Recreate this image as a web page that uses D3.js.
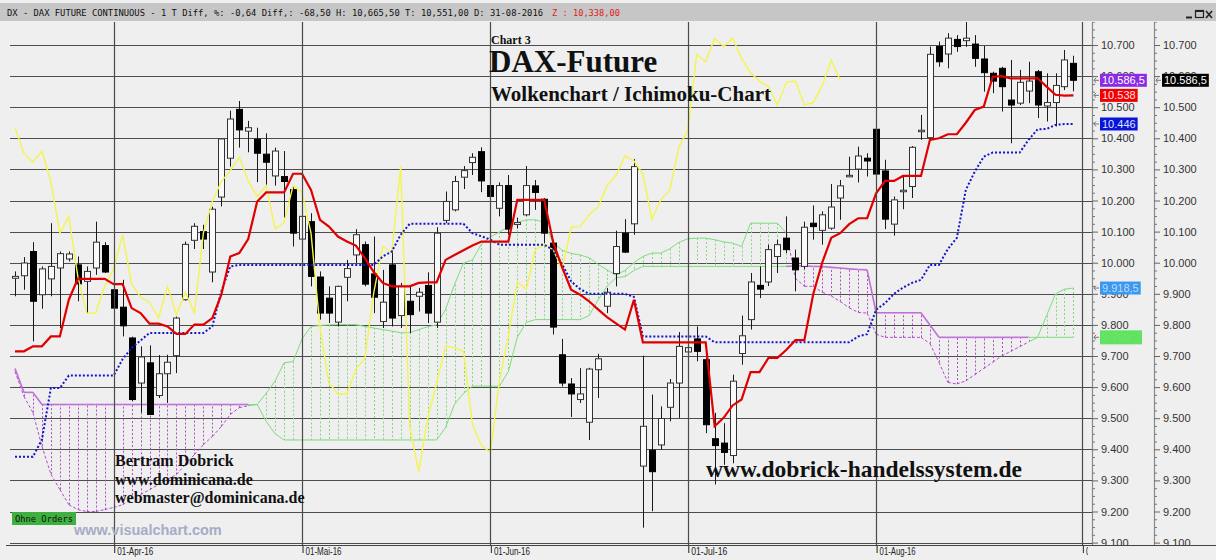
<!DOCTYPE html>
<html>
<head>
<meta charset="utf-8">
<title>DAX-Future Ichimoku</title>
<script src="https://cdn.jsdelivr.net/npm/d3@7/dist/d3.min.js"></script>
<style>
  body { margin: 0; background: #efefef; }
  svg { display: block; }
</style>
</head>
<body>
<svg id="chart" width="1216" height="560"></svg>
<script>
// daily candles, one entry per bar (index 0..118, last bar = 31-08-2016)
const open = [
  9950, 9958, 10036, 9897, 9948, 9983, 10012, 9993, 9940, 9983,
  10055, 9913, 9857, 9758, 9613, 9678, 9573, 9643, 9701, 9881,
  10072, 10100, 9970, 10211, 10336, 10493, 10423, 10397, 10349, 10279,
  10277, 10235, 10076, 10132, 9954, 9886, 9809, 9953, 10025, 10058,
  9964, 9811, 9993, 9830, 9876, 9892, 9927, 9809, 10136, 10170,
  10275, 10322, 10357, 10248, 10175, 10248, 10123, 10154, 10247, 10204,
  10063, 9704, 9610, 9560, 9487, 9656, 9860, 9965, 10095, 10125,
  9346, 9397, 9414, 9535, 9613, 9713, 9755, 9688, 9434, 9420,
  9380, 9708, 9817, 9927, 9938, 10020, 10079, 10015, 9988, 10127,
  10104, 10111, 10208, 10279, 10301, 10336, 10429, 10295, 10124, 10229,
  10245, 10422, 10402, 10695, 10671, 10718, 10714, 10703, 10655, 10609,
  10625, 10523, 10513, 10552, 10614, 10504, 10515, 10566, 10641
];
const high = [
  9972, 10018, 10066, 9988, 10127, 10036, 10036, 10020, 9988, 10132,
  10066, 9919, 9945, 9762, 9731, 9734, 9703, 9704, 9827, 10068,
  10127, 10122, 10180, 10400, 10489, 10520, 10456, 10434, 10416, 10370,
  10359, 10245, 10162, 10159, 9972, 9924, 9926, 10009, 10108, 10068,
  10084, 9977, 10042, 9935, 9924, 9919, 9969, 10114, 10229, 10279,
  10311, 10352, 10371, 10260, 10258, 10282, 10145, 10311, 10266, 10208,
  10074, 9755, 9629, 9661, 9662, 9707, 9919, 10103, 10140, 10333,
  9701, 9576, 9538, 9626, 9777, 9745, 9795, 9694, 9517, 9484,
  9640, 9830, 9967, 9988, 10058, 10074, 10149, 10042, 10132, 10184,
  10165, 10253, 10266, 10341, 10373, 10352, 10432, 10331, 10213, 10277,
  10375, 10475, 10695, 10711, 10738, 10732, 10778, 10732, 10697, 10614,
  10630, 10652, 10620, 10646, 10620, 10609, 10609, 10684, 10665.5
];
const low = [
  9892, 9913, 9747, 9852, 9892, 9790, 10004, 9876, 9838, 9961,
  9967, 9801, 9763, 9554, 9518, 9510, 9565, 9549, 9645, 9878,
  10044, 10044, 9937, 10181, 10309, 10370, 10355, 10259, 10248, 10248,
  10145, 10052, 10060, 9924, 9817, 9806, 9795, 9876, 9999, 9924,
  9838, 9790, 9795, 9790, 9774, 9843, 9806, 9790, 10127, 10165,
  10237, 10282, 10227, 10190, 10149, 10090, 10110, 10149, 10170, 10063,
  9769, 9602, 9504, 9549, 9430, 9565, 9838, 9924, 10031, 10090,
  9148, 9201, 9399, 9490, 9501, 9700, 9683, 9452, 9287, 9350,
  9355, 9672, 9785, 9886, 9925, 9967, 10031, 9908, 9980, 10074,
  10058, 10106, 10138, 10276, 10258, 10277, 10280, 10108, 10087, 10172,
  10208, 10395, 10398, 10630, 10625, 10678, 10694, 10630, 10550, 10545,
  10486, 10384, 10507, 10513, 10465, 10454, 10438, 10555, 10551
];
const close = [
  9956, 9999, 9876, 9980, 9988, 10029, 10028, 9932, 9972, 10066,
  9970, 9854, 9797, 9560, 9697, 9512, 9643, 9680, 9822, 10059,
  10117, 10076, 10172, 10398, 10462, 10427, 10434, 10352, 10323, 10359,
  10261, 10095, 10149, 9956, 9838, 9838, 9924, 9981, 10090, 9931,
  9889, 9873, 9822, 9924, 9833, 9905, 9838, 10095, 10197, 10261,
  10296, 10339, 10263, 10213, 10248, 10108, 10129, 10248, 10226, 10095,
  9793, 9613, 9578, 9578, 9658, 9691, 9905, 10052, 10034, 10309,
  9474, 9328, 9499, 9613, 9731, 9727, 9715, 9479, 9412, 9390,
  9619, 9765, 9938, 9915, 10042, 10058, 10042, 9977, 10114, 10116,
  10154, 10179, 10247, 10281, 10343, 10327, 10285, 10140, 10202, 10233,
  10371, 10426, 10670, 10646, 10722, 10695, 10722, 10657, 10611, 10584,
  10566, 10507, 10580, 10584, 10507, 10515, 10570, 10652, 10586.5
];

// Ichimoku lines
const tenkan = [
  9715, 9715, 9731, 9731, 9763, 9763, 9881, 9948, 9948, 9948,
  9948, 9931, 9931, 9854, 9838, 9804, 9804, 9795, 9771, 9771,
  9801, 9801, 9822, 9897, 10020, 10031, 10076, 10197, 10226, 10226,
  10226, 10286, 10286, 10234, 10138, 10116, 10084, 10068, 10055, 10015,
  9970, 9935, 9924, 9924, 9924, 9935, 9937, 9937, 10009, 10025,
  10040, 10055, 10068, 10068, 10068, 10068, 10202, 10202, 10202, 10202,
  10065, 9985, 9913, 9897, 9876, 9850, 9825, 9805, 9785, 9881,
  9744, 9744, 9744, 9744, 9744, 9744, 9744, 9744, 9474, 9501,
  9541, 9560, 9648, 9648, 9694, 9694, 9720, 9751, 9751, 9900,
  10001, 10080, 10095, 10124, 10143, 10143, 10223, 10263, 10263, 10279,
  10279, 10279, 10395, 10400, 10413, 10413, 10450, 10491, 10502, 10598,
  10600, 10593, 10593, 10593, 10593, 10566, 10540, 10537, 10538
];
const kijun = [
  9376, 9376, 9376, 9431, 9597, 9597, 9637, 9637, 9637, 9637,
  9637, 9637, 9690, 9726, 9750, 9774, 9774, 9774, 9774, 9774,
  9774, 9774, 9795, 9908, 9988, 9993, 9993, 9993, 9993, 9993,
  9993, 9993, 9993, 9993, 9993, 9993, 9993, 9993, 9993, 9993,
  9993, 10020, 10036, 10090, 10125, 10125, 10125, 10125, 10125, 10125,
  10125, 10095, 10085, 10074, 10058, 10058, 10058, 10058, 10058, 10058,
  10040, 9995, 9940, 9915, 9900, 9900, 9900, 9900, 9900, 9890,
  9763, 9763, 9763, 9763, 9763, 9763, 9763, 9763, 9744, 9744,
  9744, 9744, 9744, 9744, 9744, 9744, 9744, 9744, 9744, 9744,
  9744, 9744, 9744, 9744, 9763, 9770, 9849, 9870, 9900, 9920,
  9935, 9945, 9993, 9993, 10044, 10080, 10234, 10293, 10341, 10354,
  10354, 10354, 10354, 10395, 10429, 10430, 10443, 10446, 10446
];
// lagging line, starts at bar 0 and ends 26 bars before the last candle
const chikou = [
  10434, 10352, 10323, 10359, 10261, 10095, 10149, 9956, 9838, 9838,
  9924, 9981, 10090, 9931, 9889, 9873, 9822, 9924, 9833, 9905,
  9838, 10095, 10197, 10261, 10296, 10339, 10263, 10213, 10248, 10108,
  10129, 10248, 10226, 10095, 9793, 9613, 9578, 9578, 9658, 9691,
  9905, 10052, 10034, 10309, 9474, 9328, 9499, 9613, 9731, 9727,
  9715, 9479, 9412, 9390, 9619, 9765, 9938, 9915, 10042, 10058,
  10042, 9977, 10114, 10116, 10154, 10179, 10247, 10281, 10343, 10327,
  10285, 10140, 10202, 10233, 10371, 10426, 10670, 10646, 10722, 10695,
  10722, 10657, 10611, 10584, 10566, 10507, 10580, 10584, 10507, 10515,
  10570, 10652, 10586.5
];
// cloud borders (senkou span A / B)
const spanA = [
  9650, 9570, 9518, 9410, 9320, 9271, 9222, 9206, 9200, 9200,
  9206, 9213, 9222, 9240, 9255, 9270, 9287, 9303, 9319, 9351,
  9383, 9415, 9441, 9473, 9512, 9534, 9540, 9544, 9580, 9620,
  9678, 9682, 9755, 9795, 9798, 9800, 9801, 9801, 9801, 9795,
  9790, 9785, 9780, 9775, 9775, 9785, 9794, 9800, 9850, 9930,
  9999, 10009, 10060, 10083, 10099, 10115, 10130, 10138, 10138, 10130,
  10064, 10040, 10030, 10025, 10016, 9995, 9977, 9960, 9975, 10000,
  10020, 10031, 10031, 10045, 10065, 10077, 10079, 10079, 10074, 10067,
  10063, 10052, 10127, 10127, 10127, 10127, 10095, 9950, 9924, 9924,
  9905, 9893, 9875, 9855, 9840, 9838, 9770, 9760, 9760, 9760,
  9760, 9760, 9740, 9680, 9615, 9610, 9620, 9640, 9660, 9680,
  9700, 9715, 9730, 9745, 9760, 9830, 9900, 9915, 9918.5
];
const spanB = [
  9660, 9583, 9583, 9544, 9544, 9544, 9544, 9544, 9544, 9544,
  9544, 9544, 9544, 9544, 9544, 9544, 9544, 9544, 9544, 9544,
  9544, 9544, 9544, 9544, 9544, 9544, 9544, 9544, 9490, 9450,
  9430, 9430, 9430, 9430, 9430, 9430, 9430, 9430, 9430, 9430,
  9430, 9430, 9430, 9430, 9430, 9430, 9430, 9430, 9470, 9545,
  9580, 9603, 9603, 9603, 9603, 9650, 9760, 9808, 9817, 9817,
  9817, 9817, 9817, 9817, 9830, 9880, 9924, 9952, 9955, 9975,
  9988, 9988, 9988, 9988, 9988, 9988, 9988, 9988, 9988, 9988,
  9988, 9988, 9988, 9988, 9988, 9988, 9988, 9990, 9990, 9988,
  9988, 9985, 9983, 9980, 9978, 9977, 9839, 9839, 9839, 9839,
  9839, 9839, 9800, 9760, 9760, 9760, 9760, 9760, 9760, 9760,
  9760, 9760, 9760, 9760, 9760, 9760, 9760, 9760, 9760
];

// month ticks: bar index of the first session of each month
const monthIdx = [11, 32, 53, 75, 96, 119];
const monthLabels = ["01-Apr-16", "01-Mai-16", "01-Jun-16", "01-Jul-16", "01-Aug-16", "01-Sep-16"];

const header = "DX - DAX FUTURE CONTINUOUS - 1 T Diff, %: -0,64 Diff,: -68,50 H: 10,665,50 T: 10,551,00 D: 31-08-2016";
const headerRed = "Z : 10,338,00";

// ---------------------------------------------------------------
const area = {left: 10, top: 22, right: 1092, bottom: 545};
const step = 8.97;

const x = d3.scaleLinear().domain([0, 119]).range([15, 15 + 119 * step]);
const y = d3.scaleLinear().domain([9200, 10700]).range([511.5, 45]);

const de = d3.formatLocale({decimal: ",", thousands: ".", grouping: [3], currency: ["", ""]});
const fmtAxis = de.format(",.0f");
const fmtTag = de.format(",");

const svg = d3.select("#chart");
const defs = svg.append("defs");
defs.append("clipPath").attr("id", "plotclip").append("rect")
  .attr("x", area.left).attr("y", area.top)
  .attr("width", area.right - area.left).attr("height", area.bottom - area.top);
defs.append("clipPath").attr("id", "axisclip").append("rect")
  .attr("x", 0).attr("y", area.top).attr("width", 1216).attr("height", area.bottom - area.top);
defs.append("clipPath").attr("id", "xclip").append("rect")
  .attr("x", 0).attr("y", area.bottom).attr("width", 1088).attr("height", 20);

svg.append("rect").attr("width", 1216).attr("height", 560).attr("fill", "#efefef");

// title bar
svg.append("rect").attr("x", 0).attr("y", 3).attr("width", 1216).attr("height", 18).attr("fill", "#c6c6c6");
svg.append("text").attr("x", 7).attr("y", 16)
  .attr("font-family", "DejaVu Sans Mono").attr("font-size", 8.8)
  .attr("textLength", 536).attr("lengthAdjust", "spacingAndGlyphs")
  .attr("fill", "#111").text(header);
svg.append("text").attr("x", 552).attr("y", 16)
  .attr("font-family", "DejaVu Sans Mono").attr("font-size", 8.8)
  .attr("textLength", 68).attr("lengthAdjust", "spacingAndGlyphs")
  .attr("fill", "#e02020").text(headerRed);

// window buttons
const win = svg.append("g").attr("stroke", "#222").attr("fill", "none");
win.append("line").attr("x1", 1186).attr("x2", 1192).attr("y1", 17.5).attr("y2", 17.5).attr("stroke-width", 2);
win.append("rect").attr("x", 1195.5).attr("y", 10.5).attr("width", 8).attr("height", 7).attr("stroke-width", 1.2);
win.append("line").attr("x1", 1196).attr("x2", 1203).attr("y1", 11).attr("y2", 11).attr("stroke-width", 2);
win.append("path").attr("d", "M1206,11 L1212,18 M1212,11 L1206,18").attr("stroke-width", 1.6);

const plot = svg.append("g").attr("clip-path", "url(#plotclip)");

// horizontal grid
const majors = d3.range(9100, 10800, 100);
plot.append("g").selectAll("line").data(majors).join("line")
  .attr("x1", area.left).attr("x2", area.right)
  .attr("y1", d => Math.round(y(d)) + 0.5).attr("y2", d => Math.round(y(d)) + 0.5)
  .attr("stroke", "#4d4d4d").attr("stroke-width", 1.2);

// month lines
svg.append("g").selectAll("line").data(monthIdx).join("line")
  .attr("x1", d => Math.round(x(d)) + 0.5).attr("x2", d => Math.round(x(d)) + 0.5)
  .attr("y1", area.top).attr("y2", area.bottom)
  .attr("stroke", "#4a4a4a").attr("stroke-width", 1.2);

// cloud
const green = "#7ddc7d", purple = "#b24ccc";
const bars = d3.range(close.length);
const cloud = plot.append("g");
cloud.selectAll("line.hatch").data(bars).join("line")
  .attr("class", "hatch")
  .attr("x1", i => Math.round(x(i)) + 0.5).attr("x2", i => Math.round(x(i)) + 0.5)
  .attr("y1", i => y(spanA[i])).attr("y2", i => y(spanB[i]))
  .attr("stroke", i => spanA[i] >= spanB[i] ? green : purple)
  .attr("stroke-width", 1).attr("stroke-dasharray", "2,2");

const segs = d3.range(close.length - 1);
const up = i => spanA[i + 1] >= spanB[i + 1];
cloud.selectAll("line.sa").data(segs).join("line")
  .attr("class", "sa")
  .attr("x1", i => x(i)).attr("x2", i => x(i + 1))
  .attr("y1", i => y(spanA[i])).attr("y2", i => y(spanA[i + 1]))
  .attr("stroke", i => up(i) ? green : purple)
  .attr("stroke-width", 1)
  .attr("stroke-dasharray", i => up(i) ? null : "3,2");
cloud.selectAll("line.sb").data(segs).join("line")
  .attr("class", "sb")
  .attr("x1", i => x(i)).attr("x2", i => x(i + 1))
  .attr("y1", i => y(spanB[i])).attr("y2", i => y(spanB[i + 1]))
  .attr("stroke", i => up(i) ? green : "#c070d8")
  .attr("stroke-width", i => up(i) ? 1 : 1.6);

// candles
const cg = plot.append("g");
cg.selectAll("line").data(bars).join("line")
  .attr("x1", i => Math.round(x(i)) + 0.5).attr("x2", i => Math.round(x(i)) + 0.5)
  .attr("y1", i => y(high[i])).attr("y2", i => y(low[i]))
  .attr("stroke", "#1a1a1a").attr("stroke-width", 1);
cg.selectAll("rect").data(bars).join("rect")
  .attr("x", i => Math.round(x(i)) - 2.5).attr("width", 6)
  .attr("y", i => y(Math.max(open[i], close[i])))
  .attr("height", i => Math.max(1.5, Math.abs(y(open[i]) - y(close[i]))))
  .attr("fill", i => close[i] < open[i] ? "#000" : "#fafafa")
  .attr("stroke", i => close[i] < open[i] ? "#000" : "#333")
  .attr("stroke-width", 1);

// indicator lines
const line = d3.line().x((d, i) => x(i)).y(d => y(d));
plot.append("path").datum(chikou).attr("d", line)
  .attr("fill", "none").attr("stroke", "#f4f450").attr("stroke-width", 1.4);
plot.append("path").datum(kijun).attr("d", line)
  .attr("fill", "none").attr("stroke", "#1414c8").attr("stroke-width", 2).attr("stroke-dasharray", "2,2");
plot.append("path").datum(tenkan).attr("d", line)
  .attr("fill", "none").attr("stroke", "#e00000").attr("stroke-width", 2.2);

// captions
const serif = "Liberation Serif, Times New Roman, serif";
const cap = svg.append("g").attr("font-family", serif).attr("font-weight", "bold").attr("fill", "#111");
cap.append("text").attr("x", 491).attr("y", 44).attr("font-size", 12).text("Chart 3");
cap.append("text").attr("x", 489).attr("y", 72).attr("font-size", 31).text("DAX-Future");
cap.append("text").attr("x", 491).attr("y", 101).attr("font-size", 21).text("Wolkenchart / Ichimoku-Chart");
cap.append("text").attr("x", 115).attr("y", 466).attr("font-size", 16).text("Bertram Dobrick");
cap.append("text").attr("x", 115).attr("y", 485).attr("font-size", 16).text("www.dominicana.de");
cap.append("text").attr("x", 115).attr("y", 503).attr("font-size", 16).text("webmaster@dominicana.de");
cap.append("text").attr("x", 706).attr("y", 477).attr("font-size", 23.5).text("www.dobrick-handelssystem.de");

// "Ohne Orders" badge and watermark
svg.append("rect").attr("x", 12).attr("y", 512).attr("width", 64).attr("height", 13).attr("fill", "#3fb03f");
svg.append("text").attr("x", 15).attr("y", 522).attr("font-family", "DejaVu Sans Mono").attr("font-size", 9)
  .attr("textLength", 58).attr("lengthAdjust", "spacingAndGlyphs").attr("fill", "#111").text("Ohne Orders");
svg.append("text").attr("x", 74).attr("y", 535)
  .attr("font-family", "Liberation Sans, Arial, sans-serif").attr("font-weight", "bold").attr("font-size", 14.5)
  .attr("fill", "#a6acc8").text("www.visualchart.com");

// x axis
svg.append("line").attr("x1", 6).attr("x2", 1216).attr("y1", area.bottom + 0.5).attr("y2", area.bottom + 0.5)
  .attr("stroke", "#444").attr("stroke-width", 1.2);
const xWrap = svg.append("g").attr("clip-path", "url(#xclip)");
const xAxis = xWrap.append("g").attr("transform", `translate(0,${area.bottom})`)
  .call(d3.axisBottom(x).tickValues(monthIdx).tickFormat((d, i) => monthLabels[i]).tickSize(8).tickSizeOuter(0));
xAxis.select(".domain").remove();
xAxis.selectAll(".tick line").attr("stroke", "#444").attr("stroke-width", 1.2)
  .attr("transform", "translate(0.5,0)");
xAxis.selectAll(".tick text")
  .attr("x", 3).attr("y", 1).attr("dy", "0.8em").attr("text-anchor", "start")
  .attr("font-family", "Liberation Sans, Arial, sans-serif").attr("font-size", 11)
  .attr("textLength", 36).attr("lengthAdjust", "spacingAndGlyphs")
  .attr("fill", "#222");

// right price axes
const minors = d3.range(9100, 10800, 25).filter(v => v % 100 !== 0);
[1092, 1154].forEach(ax => {
  const g = svg.append("g").attr("clip-path", "url(#axisclip)");
  g.append("line").attr("x1", ax + 0.5).attr("x2", ax + 0.5).attr("y1", area.top).attr("y2", area.bottom)
    .attr("stroke", "#8a8a8a").attr("stroke-width", 1.2);
  const major = g.append("g").attr("transform", `translate(${ax},0)`)
    .call(d3.axisRight(y).tickValues(majors).tickFormat(fmtAxis).tickSize(6).tickPadding(3).tickSizeOuter(0));
  major.select(".domain").remove();
  major.selectAll(".tick line").attr("stroke", "#666");
  major.selectAll(".tick text").attr("font-family", "Liberation Sans, Arial, sans-serif")
    .attr("font-size", 11).attr("fill", "#333");
  const minor = g.append("g").attr("transform", `translate(${ax},0)`)
    .call(d3.axisRight(y).tickValues(minors).tickFormat("").tickSize(3).tickSizeOuter(0));
  minor.select(".domain").remove();
  minor.selectAll(".tick line").attr("stroke", "#777");
});

// price tags on the axes
const tags = [
  {v: close[close.length - 1], ax: 1100, bg: "#8b2be6", fg: "#ffffff"},
  {v: tenkan[tenkan.length - 1], ax: 1100, bg: "#f00000", fg: "#ffe0e0"},
  {v: kijun[kijun.length - 1], ax: 1100, bg: "#0a14d8", fg: "#dde4ff"},
  {v: spanA[spanA.length - 1], ax: 1100, bg: "#3c98ee", fg: "#b8dcff"},
  {v: spanB[spanB.length - 1], ax: 1100, bg: "#62e262", fg: "#6ae86a", h: 14},
  {v: close[close.length - 1], ax: 1162, bg: "#000000", fg: "#ffffff"}
];
tags.forEach(t => {
  const cy = y(t.v);
  const h = t.h || 13;
  const g = svg.append("g");
  g.append("path")
    .attr("d", `M${t.ax - 1},${cy} L${t.ax - 6},${cy} M${t.ax - 4},${cy - 2.5} L${t.ax - 6},${cy} L${t.ax - 4},${cy + 2.5}`)
    .attr("stroke", "#777").attr("fill", "none");
  const rect = g.append("rect").attr("x", t.ax).attr("y", cy - h / 2).attr("height", h).attr("fill", t.bg);
  const txt = g.append("text").attr("x", t.ax + 2).attr("y", cy + 4)
    .attr("font-family", "Liberation Sans, Arial, sans-serif").attr("font-size", 11)
    .attr("fill", t.fg).text(fmtTag(t.v));
  const w = t.h ? 42 : txt.node().getComputedTextLength() + 4;
  rect.attr("width", w);
});
</script>
</body>
</html>
